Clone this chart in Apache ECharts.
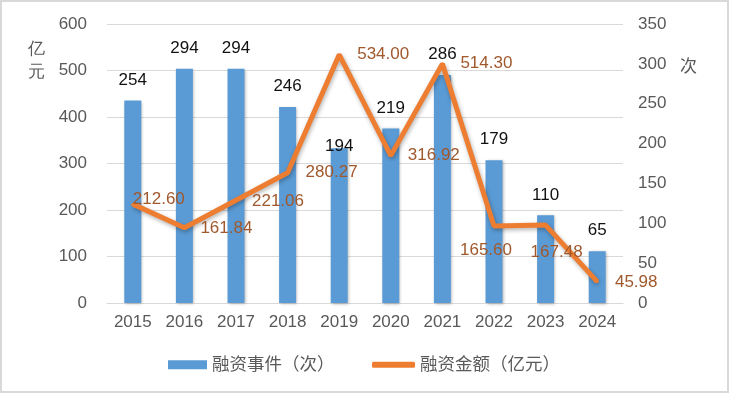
<!DOCTYPE html>
<html>
<head>
<meta charset="utf-8">
<script src="https://cdn.jsdelivr.net/npm/echarts@6/dist/echarts.min.js"></script>
<style>
html,body{margin:0;padding:0;background:#fff;}
#c{width:729px;height:393px;}
</style>
</head>
<body>
<div id="c"></div>
<script>
const years = ['2015','2016','2017','2018','2019','2020','2021','2022','2023','2024'];
const events = [254, 294, 294, 246, 194, 219, 286, 179, 110, 65];
const amounts = [212.60, 161.84, 221.06, 280.27, 534.00, 316.92, 514.30, 165.60, 167.48, 45.98];
const leftTicks = [0, 100, 200, 300, 400, 500, 600];
const rightTicks = [0, 50, 100, 150, 200, 250, 300, 350];
const eventsName = '融资事件（次）';
const amountsName = '融资金额（亿元）';

// label placement offsets (presentation only)
const amountLabelOffsets = [[26,-5],[42,1],[42,1],[44,0],[44,0],[43,0],[44,-1],[-8,24],[11,27],[39,1]];
const eventLabelOffsets = [[0,0],[0,0],[0,0],[0,0],[0,18],[0,0],[0,0],[0,0],[0,0],[0,0]];

const FONT = '"Liberation Sans", "Noto Sans CJK SC", sans-serif';
const chart = echarts.init(document.getElementById('c'), null, {renderer:'canvas'});

chart.setOption({
  backgroundColor: '#fff',
  animation: false,
  textStyle: {fontFamily: FONT},
  grid: {left: 107, right: 106, top: 24, bottom: 90},
  legend: [
    {data: [{name: eventsName, icon: 'rect'}], left: 168, top: 356, padding: 0, itemWidth: 39, itemHeight: 9,
     itemGap: 5, textStyle: {fontSize: 17.5, color: '#595959', fontFamily: FONT}},
    {data: [{name: amountsName, icon: 'roundRect'}], left: 372, top: 356, padding: 0, itemWidth: 43, itemHeight: 6,
     itemGap: 5, textStyle: {fontSize: 17.5, color: '#595959', fontFamily: FONT}}
  ],
  graphic: [
    {type: 'rect', shape: {x: 1, y: 1, width: 727, height: 391},
     style: {fill: 'none', stroke: '#d9d9d9', lineWidth: 2}, silent: true},
    {type: 'text', left: 28, top: 38, style: {text: '亿\n元', fontSize: 17, lineHeight: 23, fill: '#595959', font: '17px ' + FONT}},
    {type: 'text', left: 680, top: 59, style: {text: '次', fill: '#595959', font: '17px ' + FONT}}
  ],
  xAxis: {
    type: 'category', data: years,
    axisLine: {lineStyle: {color: '#d9d9d9', width: 1}},
    axisTick: {show: false},
    axisLabel: {color: '#595959', fontSize: 17, margin: 11, fontFamily: FONT}
  },
  yAxis: [
    {type: 'value', min: leftTicks[0], max: leftTicks[leftTicks.length-1], interval: 100,
     axisLine: {show: false}, axisTick: {show: false},
     splitLine: {lineStyle: {color: '#d9d9d9', width: 1}},
     axisLabel: {color: '#595959', fontSize: 17, margin: 20, fontFamily: FONT}},
    {type: 'value', min: rightTicks[0], max: rightTicks[rightTicks.length-1], interval: 50,
     axisLine: {show: false}, axisTick: {show: false}, splitLine: {show: false},
     axisLabel: {color: '#595959', fontSize: 17, margin: 15, fontFamily: FONT}}
  ],
  series: [
    {
      name: eventsName, type: 'bar', yAxisIndex: 1, barWidth: 17,
      itemStyle: {color: '#5B9BD5', shadowColor: 'rgba(0,0,0,0.3)', shadowBlur: 3, shadowOffsetX: 1, shadowOffsetY: 1},
      data: events.map((v, i) => ({value: v, label: {offset: eventLabelOffsets[i]}})),
      label: {show: true, position: 'top', distance: 12, color: '#111', fontSize: 17, fontFamily: FONT},
      z: 2
    },
    {
      name: amountsName, type: 'line', yAxisIndex: 0,
      symbol: 'circle', symbolSize: 3,
      itemStyle: {color: '#ED7D31'},
      lineStyle: {color: '#ED7D31', width: 5, shadowColor: 'rgba(0,0,0,0.3)', shadowBlur: 4, shadowOffsetX: 1, shadowOffsetY: 2},
      data: amounts.map((v, i) => ({value: v, label: {offset: amountLabelOffsets[i]}})),
      label: {show: true, position: 'inside', color: '#A0582C', fontSize: 17, fontFamily: FONT,
              formatter: p => p.value.toFixed(2)},
      z: 3
    }
  ]
});
</script>
</body>
</html>
